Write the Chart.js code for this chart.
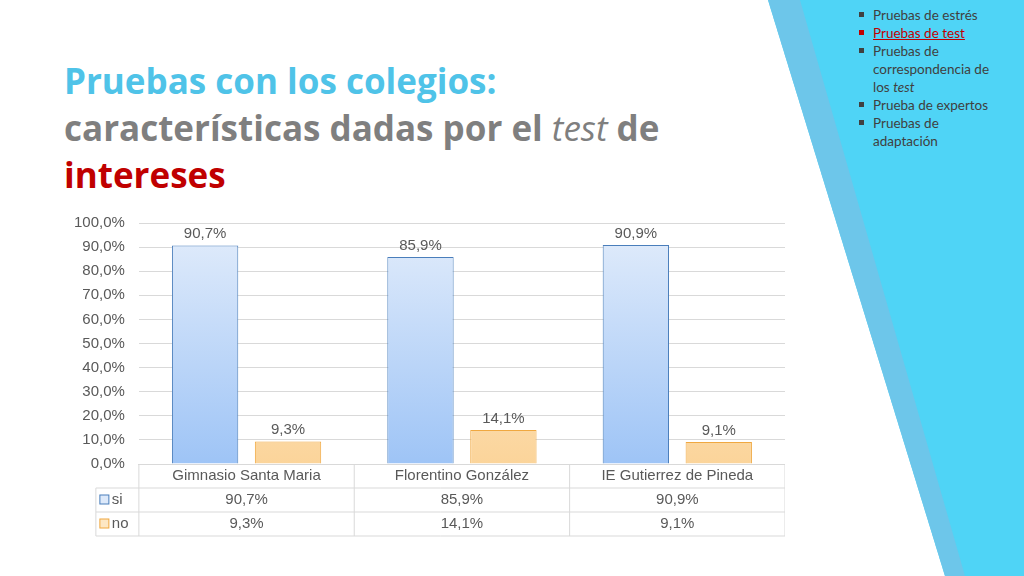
<!DOCTYPE html>
<html><head><meta charset="utf-8">
<script src="https://cdn.jsdelivr.net/npm/chart.js@4"></script>
<style>
body{margin:0;width:1024px;height:576px;overflow:hidden;background:#fff;position:relative;font-family:"Open Sans",sans-serif}
#deco{position:absolute;left:0;top:0}
#title{position:absolute;left:64px;top:57px;font-size:35px;font-weight:bold;line-height:47px;color:#7f7f7f;font-family:"Open Sans",sans-serif}
#list{position:absolute;left:858px;top:6px;width:148px;font-size:13.5px;line-height:18px;color:#404040;font-family:Lato,"Open Sans",sans-serif}
#list div{position:relative;padding-left:15px}
#list div:before{content:"";position:absolute;left:1px;top:6px;width:5px;height:5px;background:#404040}
#list div.r{color:#c00000;text-decoration:underline}
#list div.r:before{background:#c00000}
#c{position:absolute;left:60px;top:200px}
</style></head><body>
<svg id="deco" width="1024" height="576">
<polygon points="768,0 1024,0 1024,576 945,576" fill="#4fd4f6"/>
<polygon points="768,0 800,0 965,576 945,576" fill="#6dc6ea"/>
</svg>
<div id="title"><span style="color:#4fc3e8">Pruebas con los colegios:</span><br>características dadas por el <i style="font-weight:normal;font-style:italic">test</i> de<br><span style="color:#c00000">intereses</span></div>
<div id="list">
<div>Pruebas de estrés</div>
<div class="r">Pruebas de test</div>
<div>Pruebas de correspondencia de los <i>test</i></div>
<div>Prueba de expertos</div>
<div>Pruebas de adaptación</div>
</div>
<canvas id="c" width="725" height="346"></canvas>
<script>
const categories=["Gimnasio Santa Maria","Florentino González","IE Gutierrez de Pineda"];
const siValues=[90.7,85.9,90.9];
const noValues=[9.3,14.1,9.1];
const seriesNames=["si","no"];
const fmt=v=>v.toFixed(1).replace('.',',')+'%';
const ctx=document.getElementById('c').getContext('2d');
function grad(c1,c2){return (context)=>{const a=context.chart.chartArea;if(!a)return c1;const g=context.chart.ctx.createLinearGradient(0,a.top,0,a.bottom);g.addColorStop(0,c1);g.addColorStop(1,c2);return g;};}
const tablePlugin={id:'tbl',afterDraw(chart){
 const c=chart.ctx,a=chart.chartArea;
 const L=a.left,R=a.right,w=(R-L)/categories.length,top=a.bottom,rh=24,lx=L-43;
 c.save();c.strokeStyle='#d9d9d9';c.lineWidth=1;
 c.beginPath();
 c.moveTo(L,top);c.lineTo(L,top+rh*3);
 for(let i=1;i<=3;i++){c.moveTo(L+w*i,top);c.lineTo(L+w*i,top+rh*3);}
 c.moveTo(lx,top+rh);c.lineTo(lx,top+rh*3);
 c.moveTo(lx,top+rh);c.lineTo(R,top+rh);
 c.moveTo(lx,top+rh*2);c.lineTo(R,top+rh*2);
 c.moveTo(lx,top+rh*3);c.lineTo(R,top+rh*3);
 c.stroke();
 c.font='15px "Liberation Sans",Arial';c.fillStyle='#595959';c.textAlign='center';c.textBaseline='middle';
 categories.forEach((t,i)=>{c.fillText(t,L+w*(i+0.5),top+rh/2);c.fillText(fmt(siValues[i]),L+w*(i+0.5),top+rh*1.5);c.fillText(fmt(noValues[i]),L+w*(i+0.5),top+rh*2.5);});
 c.textAlign='left';
 const cols=[['#dde9fa','#4a7ebb'],['#fde7c4','#f0a840']];
 seriesNames.forEach((s,j)=>{const yy=top+rh*(1.5+j);c.fillStyle=cols[j][0];c.strokeStyle=cols[j][1];c.fillRect(lx+4,yy-5,9,9);c.strokeRect(lx+4,yy-5,9,9);c.fillStyle='#595959';c.fillText(s,lx+16,yy);});
 c.restore();}};
new Chart(ctx,{type:'bar',
data:{labels:categories,datasets:[
{label:seriesNames[0],data:siValues,backgroundColor:grad('#e3edfb','#9ec4f6'),borderColor:'#4a7ebb',borderWidth:1},
{label:seriesNames[1],data:noValues,backgroundColor:grad('#fdf0da','#fbd49a'),borderColor:'#f0a840',borderWidth:1}]},
options:{responsive:false,animation:false,layout:{padding:{left:0,right:0,top:10,bottom:74}},
 categoryPercentage:0.77,barPercentage:0.8,
 plugins:{legend:{display:false},tooltip:{enabled:false}},
 scales:{x:{ticks:{display:false},grid:{display:false},border:{color:'#d9d9d9'}},
  y:{min:0,max:100,ticks:{stepSize:10,callback:v=>fmt(v),color:'#595959',font:{size:15,family:'"Liberation Sans",Arial'},padding:14},grid:{color:'#d9d9d9',drawTicks:false},border:{display:false}}}},
plugins:[tablePlugin,{id:'lbl',afterDatasetsDraw(chart){const c=chart.ctx;c.save();c.font='15px "Liberation Sans",Arial';c.fillStyle='#595959';c.textAlign='center';c.textBaseline='bottom';
 chart.data.datasets.forEach((d,j)=>chart.getDatasetMeta(j).data.forEach((b,i)=>c.fillText(fmt(d.data[i]),b.x,b.y-4)));c.restore();}}]
});
</script></body></html>
